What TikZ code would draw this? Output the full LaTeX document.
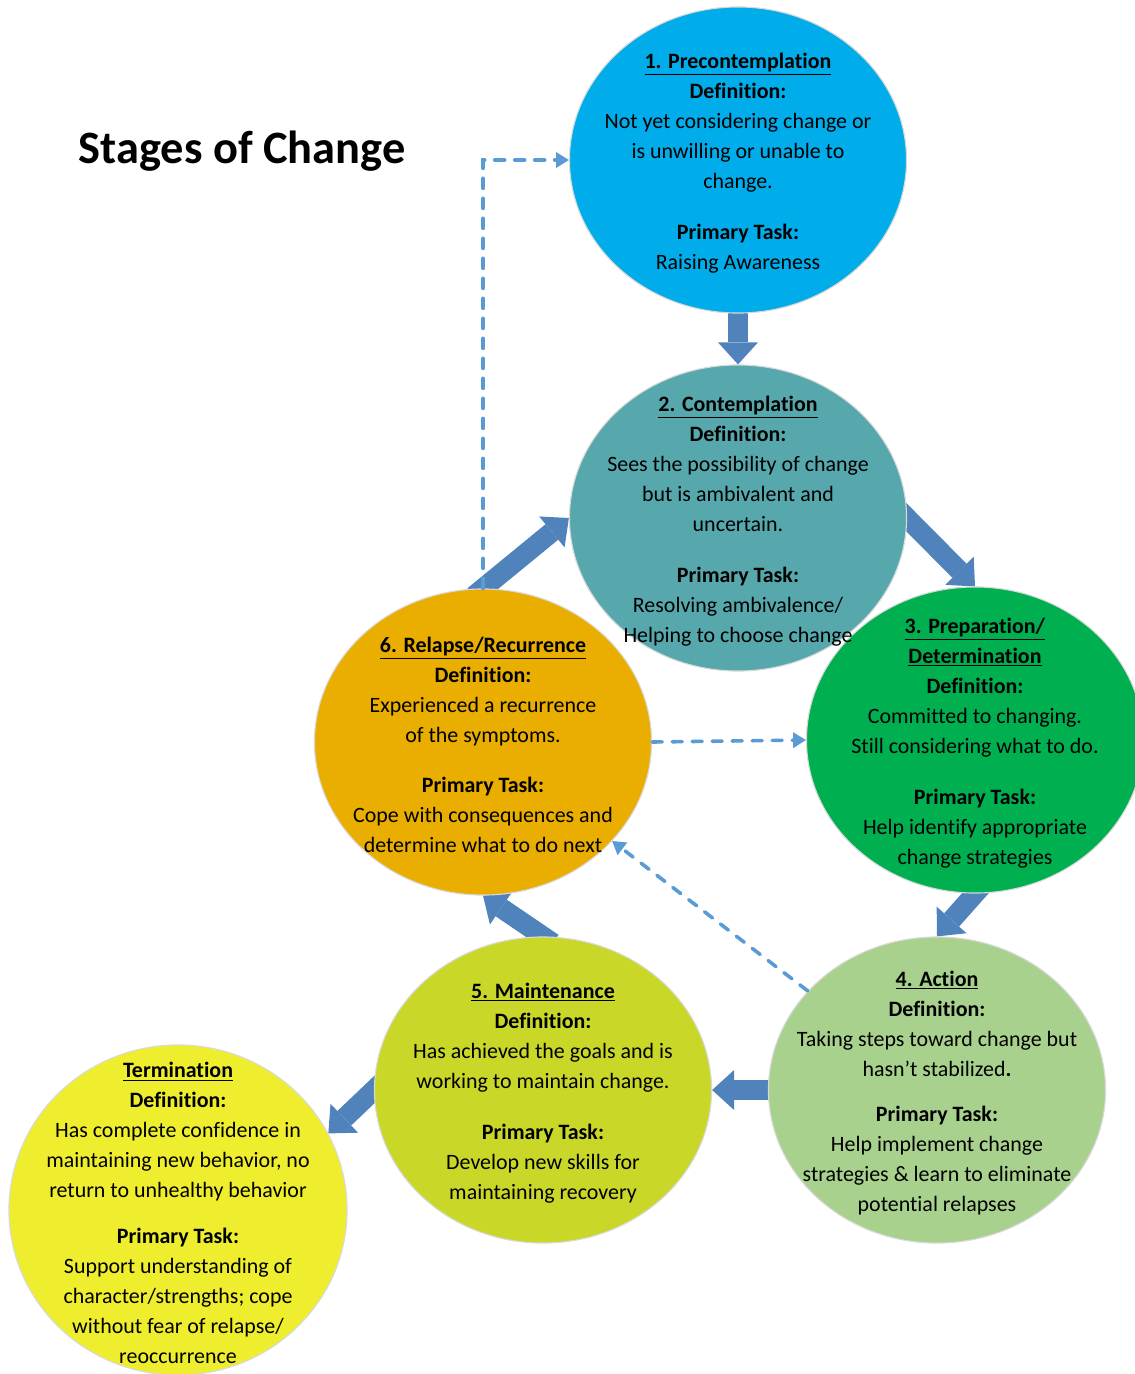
\documentclass[tikz,border=0pt]{standalone}
\usepackage{fontspec}
\setmainfont{Carlito}[Ligatures=NoCommon]
\usetikzlibrary{shapes.geometric, arrows.meta, backgrounds}
\definecolor{preblue}{RGB}{0,173,234}
\definecolor{conteal}{RGB}{86,168,173}
\definecolor{prepgreen}{RGB}{0,176,80}
\definecolor{actgreen}{RGB}{169,209,142}
\definecolor{maintlime}{RGB}{201,215,40}
\definecolor{relorange}{RGB}{233,174,0}
\definecolor{termyellow}{RGB}{238,238,46}
\definecolor{arrowblue}{RGB}{80,130,188}
\definecolor{dashblue}{RGB}{91,155,213}

\begin{document}
\begin{tikzpicture}[x=0.025cm, y=-0.025cm,
  stage/.style={draw=black!15, line width=0.8pt, ellipse, minimum width=8.425cm, minimum height=7.65cm, inner sep=0pt},
  txt/.style={align=center, yshift=-0.075cm, font=\fontsize{15.6}{21.3}\selectfont},
  bigarrow/.style={draw=arrowblue, line width=0.5cm, -{Triangle[width=1cm, length=0.55cm, line width=0pt]}, shorten <=-0.3cm},
  dasharrow/.style={draw=dashblue, line width=0.09cm, line cap=round, dash pattern=on 0.25cm off 0.25cm, -{Triangle[width=0.4cm, length=0.32cm, line width=0pt]}}]
\useasboundingbox (0,0) rectangle (1134,1374);

\node[anchor=base, font=\bfseries\fontsize{33}{40}\selectfont] (title) at (242,163) {Stages of Change};

\node[stage, fill=preblue] (S1) at (738,160) {};
\node[stage, fill=conteal] (S2) at (738,518) {};
\node[stage, fill=prepgreen] (S3) at (975,740) {};
\node[stage, fill=actgreen] (S4) at (937,1090) {};
\node[stage, fill=maintlime] (S5) at (543,1090) {};
\node[stage, fill=relorange] (S6) at (483,742) {};
\node[stage, fill=termyellow, minimum width=8.45cm, minimum height=8.25cm] (T) at (178,1210) {};

\node[txt] (S1t) at (S1) {\underline{\textbf{1. Precontemplation}}\\ \textbf{Definition:}\\ Not yet considering change or\\ is unwilling or unable to\\ change.\\[0.52cm] \textbf{Primary Task:}\\ Raising Awareness};
\node[txt] (S2t) at (S2) {\underline{\textbf{2. Contemplation}}\\ \textbf{Definition:}\\ Sees the possibility of change\\ but is ambivalent and\\ uncertain.\\[0.52cm] \textbf{Primary Task:}\\ Resolving ambivalence/\\ Helping to choose change};
\node[txt] (S3t) at (S3) {\underline{\textbf{3. Preparation/}}\\ \underline{\textbf{Determination}}\\ \textbf{Definition:}\\ Committed to changing.\\ Still considering what to do.\\[0.52cm] \textbf{Primary Task:}\\ Help identify appropriate\\ change strategies};
\node[txt] (S4t) at (S4) {\underline{\textbf{4. Action}}\\ \textbf{Definition:}\\ Taking steps toward change but\\ hasn’t stabilized\textbf{.}\\[0.375cm] \textbf{Primary Task:}\\ Help implement change\\ strategies \& learn to eliminate\\ potential relapses};
\node[txt] (S5t) at (S5) {\underline{\textbf{5. Maintenance}}\\ \textbf{Definition:}\\ Has achieved the goals and is\\ working to maintain change.\\[0.52cm] \textbf{Primary Task:}\\ Develop new skills for\\ maintaining recovery};
\node[txt] (S6t) at (S6) {\underline{\textbf{6. Relapse/Recurrence}}\\ \textbf{Definition:}\\ Experienced a recurrence\\ of the symptoms.\\[0.52cm] \textbf{Primary Task:}\\ Cope with consequences and\\ determine what to do next};
\node[txt] (Tt) at (T) {\underline{\textbf{Termination}}\\ \textbf{Definition:}\\ Has complete confidence in\\ maintaining new behavior, no\\ return to unhealthy behavior\\[0.4cm] \textbf{Primary Task:}\\ Support understanding of\\ character/strengths; cope\\ without fear of relapse/\\ reoccurrence};

\begin{scope}[on background layer]
\draw[bigarrow] (S1.south) -- (S2.north);
\draw[bigarrow] (S2.east) -- (S3.north);
\draw[bigarrow] (S3.south) -- (S4.north);
\draw[bigarrow] (S4.west) -- (S5.east);
\draw[bigarrow] (S5.north) -- (S6.south);
\draw[bigarrow] (S6.north) -- (S2.west);
\draw[bigarrow] (S5.west) -- (T.27);
\end{scope}

\draw[dasharrow] (S6.north) |- (S1.west);
\draw[dasharrow] (S6.east) -- (S3.west);
\draw[dasharrow] (S4) -- (S6);
\end{tikzpicture}
\end{document}
